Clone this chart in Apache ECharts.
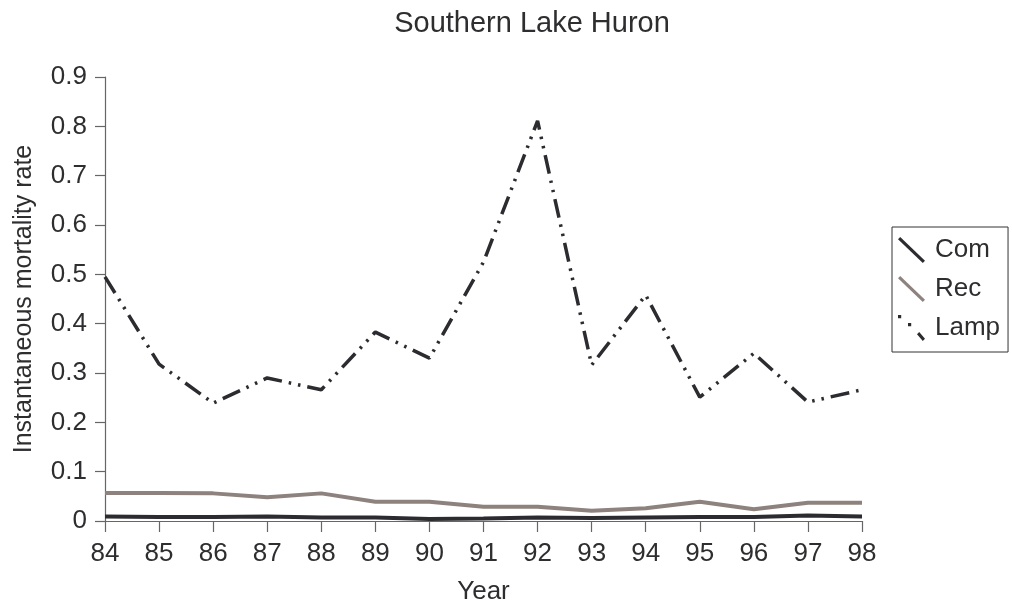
<!DOCTYPE html>
<html>
<head>
<meta charset="utf-8">
<script src="https://cdn.jsdelivr.net/npm/echarts@6/dist/echarts.min.js"></script>
<style>
  html, body { margin: 0; padding: 0; background: #fff; }
  #chart { width: 1012px; height: 611px; }
</style>
</head>
<body>
<div id="chart"></div>
<script>
// Survey years (two-digit) and instantaneous mortality rates by source
const years = ['84','85','86','87','88','89','90','91','92','93','94','95','96','97','98'];
const comRate  = [0.009, 0.008, 0.008, 0.009, 0.007, 0.007, 0.004, 0.005, 0.007, 0.006, 0.007, 0.008, 0.008, 0.011, 0.009];
const recRate  = [0.057, 0.057, 0.056, 0.048, 0.056, 0.039, 0.039, 0.029, 0.029, 0.021, 0.026, 0.039, 0.024, 0.037, 0.037];
const lampRate = [0.495, 0.318, 0.239, 0.290, 0.266, 0.383, 0.330, 0.525, 0.811, 0.316, 0.458, 0.251, 0.340, 0.241, 0.266];
const yTicks = { min: 0, max: 0.9, step: 0.1 };

const FONT = '"Liberation Sans", Arial, Helvetica, sans-serif';
const TEXT = '#2e2e30';
const AXIS = '#666';
const DARK = '#2b2b30';
const TAUPE = '#8e827e';

// Legend glyphs: a diagonal stroke, and dot-dot-dash for the lamprey series
const slashIcon = 'path://M0,2.2 L2.2,0 L27,23.8 L24.8,26 Z';
const lampIcon = 'path://M0,0 L3.2,0 L3.2,3.2 L0,3.2 Z M10,8 L13.2,8 L13.2,11.2 L10,11.2 Z M19,19.2 L21.2,17 L27,23.8 L24.8,26 Z';

const chart = echarts.init(document.getElementById('chart'), null, { renderer: 'canvas' });

chart.setOption({
  animation: false,
  backgroundColor: '#fff',
  title: {
    text: 'Southern Lake Huron',
    left: 527,
    top: 4,
    textAlign: 'center',
    textStyle: { fontFamily: FONT, fontSize: 29, fontWeight: 'normal', color: TEXT }
  },
  grid: { left: 105, right: 150, top: 77, bottom: 90 },
  legend: {
    orient: 'vertical',
    left: 892,
    top: 227,
    padding: [10, 8, 11, 6],
    itemGap: 13,
    itemWidth: 27,
    itemHeight: 26,
    borderColor: '#333',
    borderWidth: 1,
    textStyle: { fontFamily: FONT, fontSize: 26, lineHeight: 26, color: TEXT, padding: [0, 0, 0, 5] },
    data: [
      { name: 'Com', icon: slashIcon, itemStyle: { color: DARK } },
      { name: 'Rec', icon: slashIcon, itemStyle: { color: TAUPE } },
      { name: 'Lamp', icon: lampIcon, itemStyle: { color: DARK } }
    ]
  },
  xAxis: {
    type: 'category',
    data: years,
    boundaryGap: false,
    name: 'Year',
    nameLocation: 'middle',
    nameGap: 58,
    nameTextStyle: { fontFamily: FONT, fontSize: 26, color: TEXT },
    axisLine: { lineStyle: { color: AXIS, width: 1.2 } },
    axisTick: { alignWithLabel: true, length: 11, lineStyle: { color: AXIS, width: 1.2 } },
    axisLabel: { fontFamily: FONT, fontSize: 26, color: TEXT, margin: 20 },
    splitLine: { show: false }
  },
  yAxis: {
    type: 'value',
    min: yTicks.min,
    max: yTicks.max,
    interval: yTicks.step,
    name: 'Instantaneous mortality rate',
    nameLocation: 'middle',
    nameGap: 68,
    nameTextStyle: { fontFamily: FONT, fontSize: 25, color: TEXT },
    axisLine: { show: true, lineStyle: { color: AXIS, width: 1.2 } },
    axisTick: { show: true, length: 10, lineStyle: { color: AXIS, width: 1.2 } },
    axisLabel: {
      fontFamily: FONT, fontSize: 26, color: TEXT, margin: 18,
      formatter: v => (Math.round(v * 10) / 10).toString()
    },
    splitLine: { show: false }
  },
  series: [
    {
      name: 'Lamp',
      type: 'line',
      data: lampRate,
      symbol: 'none',
      z: 2,
      lineStyle: { color: DARK, width: 3.5, type: [19, 7, 2.5, 7, 2.5, 7] }
    },
    {
      name: 'Rec',
      type: 'line',
      data: recRate,
      symbol: 'none',
      z: 3,
      lineStyle: { color: TAUPE, width: 4 }
    },
    {
      name: 'Com',
      type: 'line',
      data: comRate,
      symbol: 'none',
      z: 4,
      lineStyle: { color: DARK, width: 4 }
    }
  ]
});
</script>
</body>
</html>
